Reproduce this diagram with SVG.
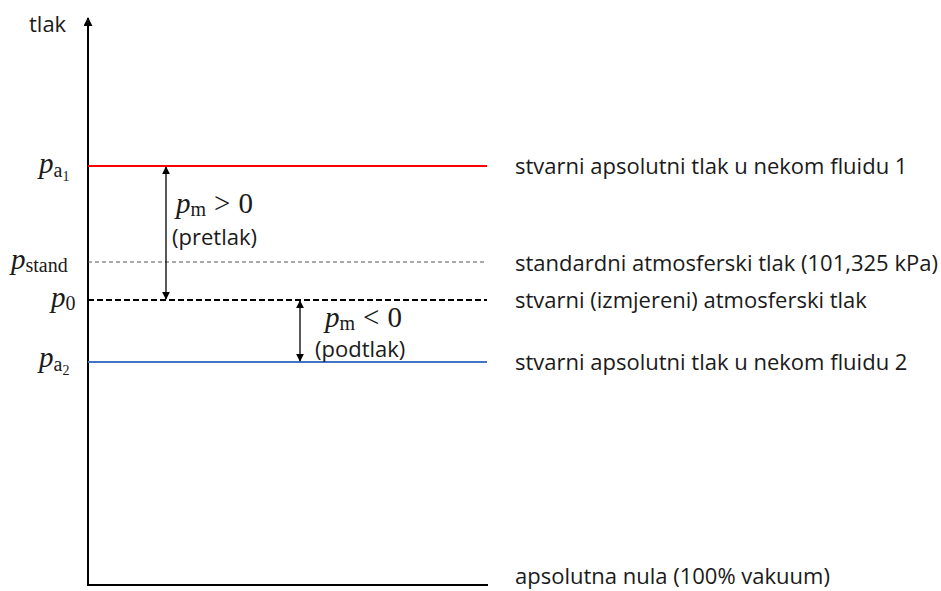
<svg xmlns="http://www.w3.org/2000/svg" width="941" height="591" viewBox="0 0 941 591">
<style>
.t{font-family:"Open Sans","Liberation Sans",sans-serif;font-size:22px;fill:#1a1a1a}
.m{font-family:"Liberation Serif","DejaVu Serif",serif;font-size:29px;fill:#1a1a1a}
.mi{font-style:italic}
.s{font-size:20px}
.ax{stroke:#000;stroke-width:2;fill:none}
.ar{stroke:#000;stroke-width:1.3;fill:none;marker-start:url(#ah);marker-end:url(#ah)}
</style>
<defs>
<marker id="ah" viewBox="0 0 10 10" refX="9" refY="5" markerWidth="8" markerHeight="8" markerUnits="userSpaceOnUse" orient="auto-start-reverse">
<path d="M0,0 L10,5 L0,10 z" fill="#000"/>
</marker>
<marker id="ah2" viewBox="0 0 10 10" refX="9" refY="5" markerWidth="9" markerHeight="9" markerUnits="userSpaceOnUse" orient="auto">
<path d="M0,0 L10,5 L0,10 z" fill="#000"/>
</marker>
</defs>
<rect width="941" height="591" fill="#fff"/>
<g id="axes">
<path class="ax" d="M88,586 L88,18" marker-end="url(#ah2)"/>
<path class="ax" d="M87,585 L488,585"/>
<text class="t" x="29" y="32">tlak</text>
</g>
<g id="line-pa1">
<line x1="88" y1="166" x2="487" y2="166" stroke="#ff0000" stroke-width="2"/>
<text class="m" x="39" y="173"><tspan class="mi">p</tspan><tspan class="s" dy="4">a</tspan><tspan font-size="14" dy="4">1</tspan></text>
<text class="t" x="515" y="174">stvarni apsolutni tlak u nekom fluidu 1</text>
</g>
<g id="line-pstand">
<line x1="88" y1="262" x2="487" y2="262" stroke="#555" stroke-width="1" stroke-dasharray="4,3"/>
<text class="m" x="11" y="269"><tspan class="mi">p</tspan><tspan class="s" dy="3">stand</tspan></text>
<text class="t" x="515" y="271">standardni atmosferski tlak (101,325 kPa)</text>
</g>
<g id="line-p0">
<line x1="88" y1="300" x2="487" y2="300" stroke="#000" stroke-width="2" stroke-dasharray="6,3"/>
<text class="m" x="51" y="307"><tspan class="mi">p</tspan><tspan class="s" dy="3">0</tspan></text>
<text class="t" x="515" y="308">stvarni (izmjereni) atmosferski tlak</text>
</g>
<g id="line-pa2">
<line x1="88" y1="362" x2="487" y2="362" stroke="#4472c4" stroke-width="2"/>
<text class="m" x="39" y="367"><tspan class="mi">p</tspan><tspan class="s" dy="4">a</tspan><tspan font-size="14" dy="4">2</tspan></text>
<text class="t" x="515" y="370">stvarni apsolutni tlak u nekom fluidu 2</text>
</g>
<g id="line-zero">
<text class="t" x="515" y="584">apsolutna nula (100% vakuum)</text>
</g>
<g id="connectors">
<line class="ar" x1="166" y1="167" x2="166" y2="299"/>
<line class="ar" x1="300" y1="301" x2="300" y2="361"/>
</g>
<g id="label-pretlak">
<text class="m" x="176" y="213"><tspan class="mi">p</tspan><tspan class="s" dy="3">m</tspan><tspan dy="-3" dx="8">&gt;</tspan><tspan dx="8">0</tspan></text>
<text class="t" x="172" y="245">(pretlak)</text>
</g>
<g id="label-podtlak">
<text class="m" x="325" y="327"><tspan class="mi">p</tspan><tspan class="s" dy="3">m</tspan><tspan dy="-3" dx="8">&lt;</tspan><tspan dx="8">0</tspan></text>
<text class="t" x="315" y="357">(podtlak)</text>
</g>
</svg>
